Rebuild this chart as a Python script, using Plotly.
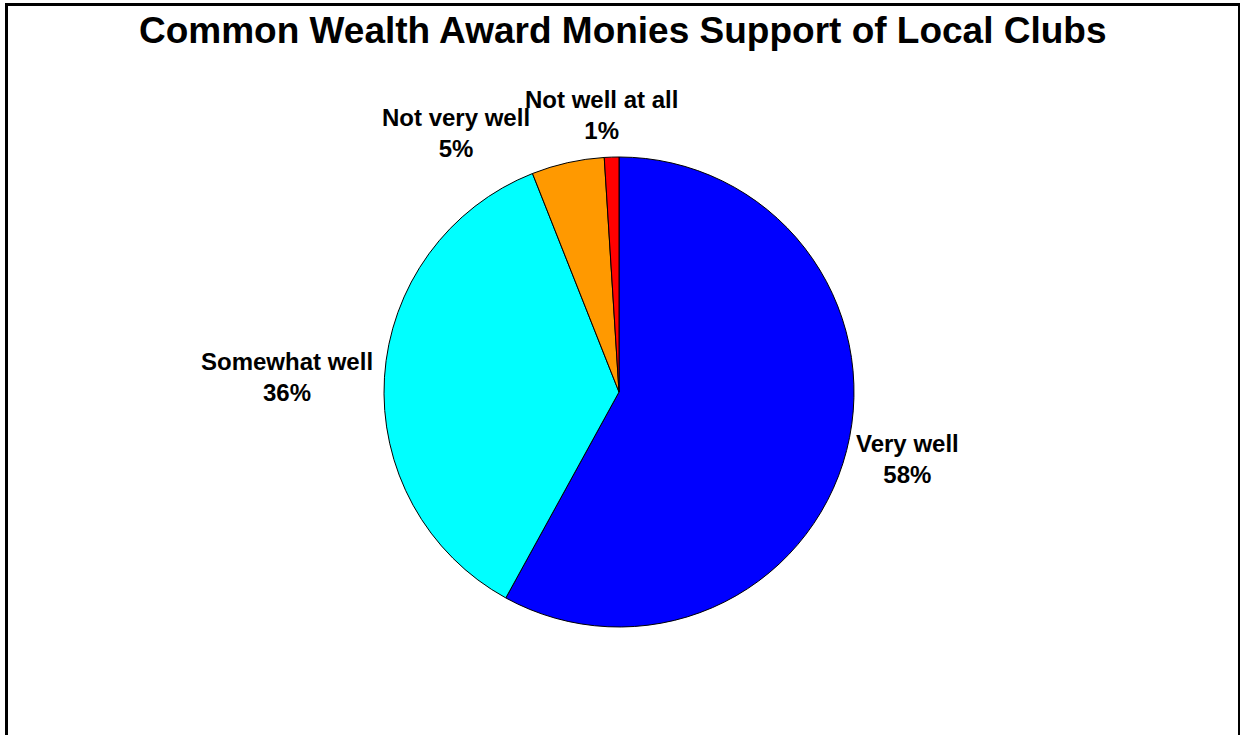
import plotly.graph_objects as go

# Survey responses, in drawing order (clockwise from 12 o'clock)
categories = ["Very well", "Somewhat well", "Not very well", "Not well at all"]
shares = [58, 36, 5, 1]
slice_colors = ["#0000FF", "#00FFFF", "#FF9900", "#FF0000"]

W, H = 1240, 735
FONT = "Liberation Sans, Arial, sans-serif"

# pie geometry in pixels
cx, cy, r = 619, 392, 235

fig = go.Figure(
    go.Pie(
        labels=categories,
        values=shares,
        sort=False,
        direction="clockwise",
        rotation=0,
        marker=dict(colors=slice_colors, line=dict(color="black", width=1)),
        textinfo="none",
        hoverinfo="label+percent",
        showlegend=False,
        domain=dict(
            x=[(cx - r) / W, (cx + r) / W],
            y=[(H - cy - r) / H, (H - cy + r) / H],
        ),
    )
)

# outside label placement (pixel centres of each two-line label)
label_pos = [(907, 459), (287, 377), (456, 133), (601, 115)]

annotations = []
for name, val, (lx, ly) in zip(categories, shares, label_pos):
    annotations.append(
        dict(
            text=f"<b>{name}<br>{val}%</b>",
            x=lx / W,
            y=1 - ly / H,
            xref="paper",
            yref="paper",
            xanchor="center",
            yanchor="middle",
            showarrow=False,
            align="center",
            font=dict(family=FONT, size=24, color="black"),
        )
    )

annotations.append(
    dict(
        text="<b>Common Wealth Award Monies Support of Local Clubs</b>",
        x=623 / W,
        y=1 - 30 / H,
        xref="paper",
        yref="paper",
        xanchor="center",
        yanchor="middle",
        showarrow=False,
        font=dict(family=FONT, size=37, color="black"),
    )
)

fig.update_layout(
    width=W,
    height=H,
    margin=dict(l=0, r=0, t=0, b=0),
    paper_bgcolor="white",
    plot_bgcolor="white",
    annotations=annotations,
    shapes=[
        dict(
            type="rect",
            xref="paper",
            yref="paper",
            x0=6.5 / W,
            x1=1239.5 / W,
            y0=-0.05,
            y1=1 - 4.5 / H,
            line=dict(color="black", width=3),
            fillcolor="rgba(0,0,0,0)",
            layer="above",
        )
    ],
)

fig.write_html("out.html")
